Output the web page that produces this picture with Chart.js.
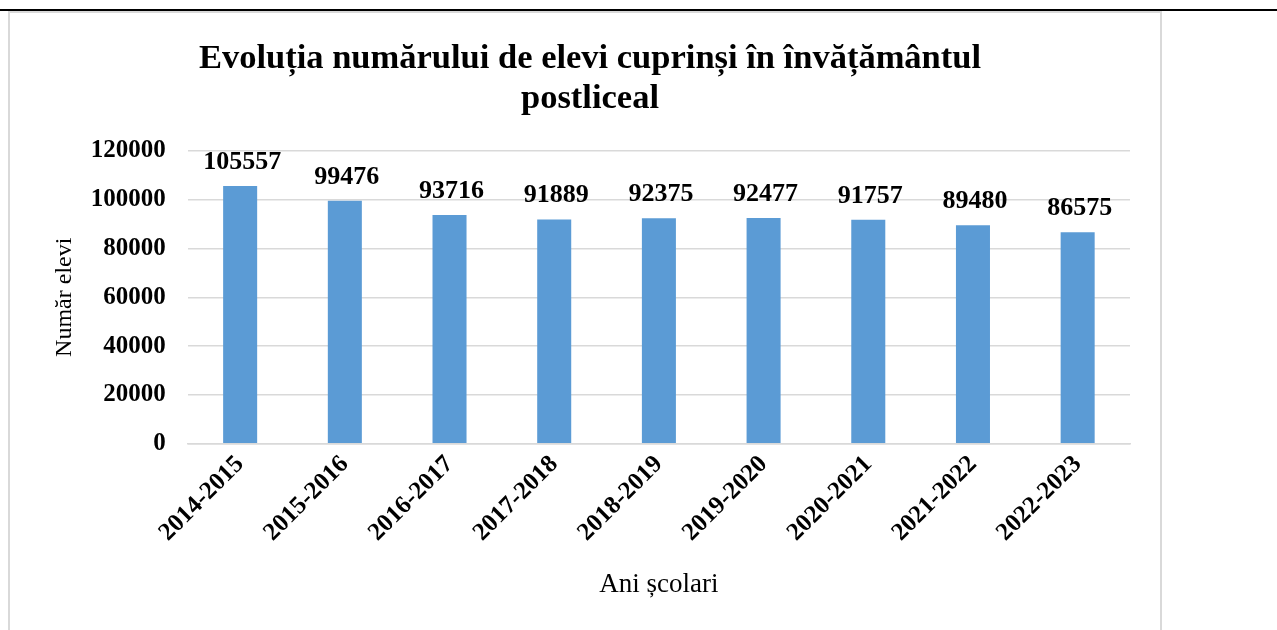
<!DOCTYPE html>
<html>
<head>
<meta charset="utf-8">
<script src="https://cdn.jsdelivr.net/npm/chart.js"></script>
<style>
  html, body { margin: 0; padding: 0; background: #fff; }
  body { width: 1277px; height: 630px; position: relative; overflow: hidden; }
  .rule { position: absolute; left: 0; top: 9px; width: 1277px; height: 2px; background: #000; }
  .box { position: absolute; left: 8px; top: 11px; width: 1150px; height: 640px;
         border: 2px solid #d9d9d9; border-bottom: none; }
  .wrap { position: absolute; left: 10px; top: 13px; width: 1148px; height: 617px; }
</style>
</head>
<body>
<div class="rule"></div>
<div class="box"></div>
<div class="wrap"><canvas id="chart"></canvas></div>
<script>
const years = ['2014-2015', '2015-2016', '2016-2017', '2017-2018', '2018-2019',
               '2019-2020', '2020-2021', '2021-2022', '2022-2023'];
const students = [105557, 99476, 93716, 91889, 92375, 92477, 91757, 89480, 86575];
const yTicks = [0, 20000, 40000, 60000, 80000, 100000, 120000];

const serif = "'Liberation Serif', 'Times New Roman', serif";

// value labels above each bar
const barLabels = {
  id: 'barLabels',
  afterDatasetsDraw(chart) {
    const ctx = chart.ctx;
    const meta = chart.getDatasetMeta(0);
    ctx.save();
    ctx.font = 'bold 26px ' + serif;
    ctx.fillStyle = '#000';
    ctx.textAlign = 'center';
    ctx.textBaseline = 'alphabetic';
    meta.data.forEach((bar, i) => {
      ctx.fillText(String(students[i]), bar.x + 2, bar.y - 17);
    });
    ctx.restore();
  }
};

new Chart(document.getElementById('chart'), {
  type: 'bar',
  data: {
    labels: years,
    datasets: [{
      data: students,
      backgroundColor: '#5b9bd5',
      barPercentage: 0.5,
      categoryPercentage: 0.65
    }]
  },
  options: {
    responsive: true,
    maintainAspectRatio: false,
    animation: false,
    layout: { padding: { left: 40, right: 28, top: 26, bottom: 25 } },
    plugins: {
      legend: { display: false },
      tooltip: { enabled: false },
      title: {
        display: true,
        text: ['Evoluția numărului de elevi cuprinși în învățământul', 'postliceal'],
        color: '#000',
        font: { family: serif, size: 34.5, weight: 'bold', lineHeight: 1.17 },
        padding: { top: 0, bottom: 31 }
      }
    },
    scales: {
      x: {
        grid: { display: false },
        border: { color: '#d9d9d9', width: 1.5 },
        ticks: {
          color: '#000',
          font: { family: serif, size: 25, weight: 'bold' },
          maxRotation: 45,
          minRotation: 45,
          padding: -2
        },
        title: {
          display: true,
          text: 'Ani școlari',
          color: '#000',
          font: { family: serif, size: 27 },
          padding: { top: 23 }
        }
      },
      y: {
        min: 0,
        max: 120000,
        afterBuildTicks(axis) { axis.ticks = yTicks.map(v => ({ value: v })); },
        grid: { color: '#d9d9d9', lineWidth: 1.5, drawTicks: false },
        border: { display: false },
        ticks: {
          color: '#000',
          font: { family: serif, size: 25, weight: 'bold' },
          padding: 22,
          callback: v => String(v)
        },
        title: {
          display: true,
          text: 'Număr elevi',
          color: '#000',
          font: { family: serif, size: 24 },
          padding: { top: 0, bottom: -10 }
        }
      }
    }
  },
  plugins: [barLabels]
});
</script>
</body>
</html>
